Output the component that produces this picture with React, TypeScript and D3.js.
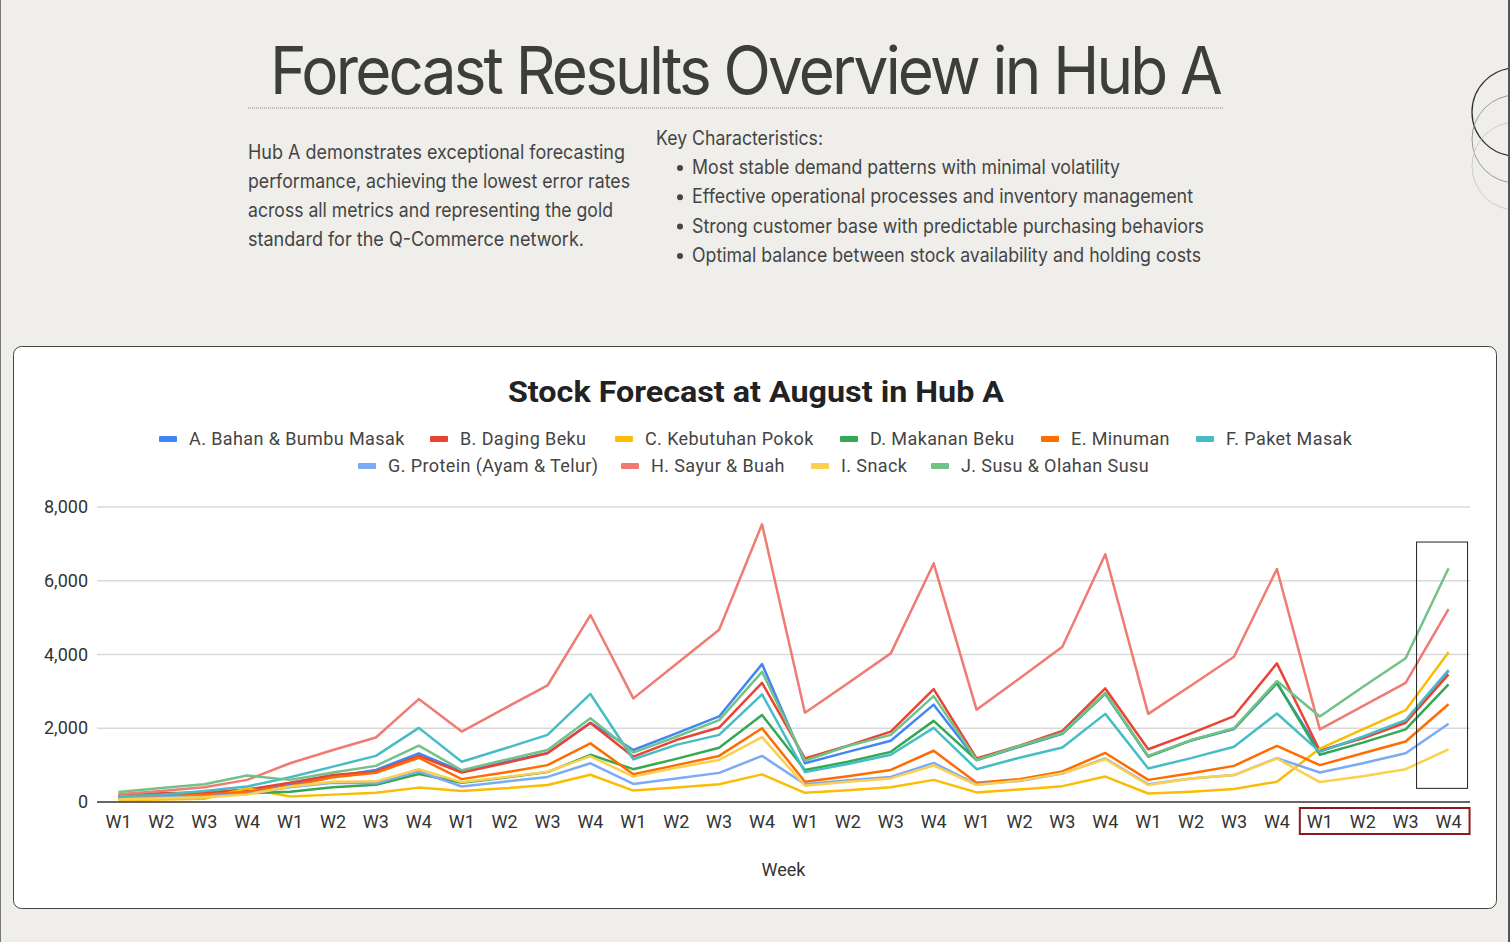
import React from 'react'
import * as d3 from 'd3'

// categories: 8 blocks of W1..W4
const weekNames = ['W1', 'W2', 'W3', 'W4']
const blocks = 8
const yTicks = [0, 2000, 4000, 6000, 8000]

const bahanBumbu = [130, 170, 210, 290, 460, 690, 870, 1320, 830, 1080, 1330, 2150, 1410, 1860, 2320, 3740, 1050, 1360, 1660, 2640, 1140, 1500, 1850, 2930, 1240, 1670, 1980, 3220, 1380, 1760, 2180, 3560]
const dagingBeku = [180, 240, 260, 340, 520, 730, 820, 1250, 800, 1050, 1320, 2140, 1230, 1680, 2020, 3230, 1180, 1530, 1910, 3060, 1180, 1530, 1930, 3080, 1430, 1860, 2330, 3760, 1390, 1730, 2150, 3460]
const kebutuhanPokok = [50, 70, 90, 370, 150, 200, 250, 390, 300, 370, 460, 740, 310, 390, 480, 750, 250, 320, 400, 600, 260, 340, 430, 690, 230, 280, 350, 550, 1450, 1970, 2490, 4060]
const makananBeku = [120, 160, 190, 240, 280, 400, 470, 760, 520, 660, 810, 1280, 890, 1170, 1470, 2360, 870, 1090, 1360, 2200, 1140, 1510, 1860, 2950, 1230, 1670, 1990, 3240, 1280, 1610, 1970, 3190]
const minuman = [110, 150, 200, 280, 430, 670, 790, 1200, 620, 800, 1000, 1590, 750, 1000, 1250, 2000, 550, 700, 870, 1390, 520, 620, 830, 1330, 600, 780, 980, 1520, 1000, 1320, 1640, 2650]
const paketMasak = [150, 200, 300, 420, 670, 960, 1250, 2010, 1090, 1450, 1820, 2930, 1160, 1550, 1820, 2920, 810, 1030, 1280, 2010, 890, 1200, 1480, 2390, 910, 1190, 1500, 2400, 1360, 1770, 2220, 3580]
const protein = [90, 120, 150, 220, 400, 520, 510, 830, 420, 550, 680, 1050, 490, 640, 790, 1250, 480, 590, 680, 1060, 480, 570, 770, 1180, 480, 640, 730, 1190, 800, 1050, 1320, 2120]
const sayurBuah = [210, 300, 400, 600, 1050, 1410, 1750, 2790, 1910, 2540, 3160, 5070, 2810, 3740, 4670, 7530, 2420, 3220, 4030, 6470, 2500, 3350, 4210, 6720, 2390, 3160, 3940, 6320, 1970, 2600, 3230, 5230]
const snack = [70, 100, 130, 200, 420, 550, 560, 890, 540, 670, 820, 1240, 690, 930, 1140, 1760, 440, 550, 640, 990, 460, 580, 780, 1160, 460, 640, 730, 1180, 540, 700, 890, 1430]
const susu = [270, 380, 480, 720, 600, 800, 980, 1530, 860, 1140, 1410, 2270, 1340, 1770, 2220, 3530, 1120, 1520, 1820, 2870, 1140, 1520, 1870, 2950, 1250, 1680, 2000, 3280, 2320, 3120, 3900, 6340]

const seriesNames = [
  'A. Bahan & Bumbu Masak', 'B. Daging Beku', 'C. Kebutuhan Pokok', 'D. Makanan Beku', 'E. Minuman',
  'F. Paket Masak', 'G. Protein (Ayam & Telur)', 'H. Sayur & Buah', 'I. Snack', 'J. Susu & Olahan Susu'
]
const seriesValues = [bahanBumbu, dagingBeku, kebutuhanPokok, makananBeku, minuman, paketMasak, protein, sayurBuah, snack, susu]
const colors = ['#4285F4', '#EA4335', '#FBBC04', '#34A853', '#FF6D01', '#46BDC6', '#7BAAF7', '#F07B72', '#FCD04F', '#71C287']

const paragraph = [
  'Hub A demonstrates exceptional forecasting',
  'performance, achieving the lowest error rates',
  'across all metrics and representing the gold',
  'standard for the Q-Commerce network.'
]
const paragraphWidths = [377, 382, 365, 336]
const bullets = [
  'Most stable demand patterns with minimal volatility',
  'Effective operational processes and inventory management',
  'Strong customer base with predictable purchasing behaviors',
  'Optimal balance between stock availability and holding costs'
]
const bulletWidths = [428, 501, 512, 509]

// legend layout (swatch x per item)
const legendRows = [
  { y: 439, items: [[0, 159], [1, 430], [2, 615], [3, 840], [4, 1041], [5, 1196]] },
  { y: 466, items: [[6, 358], [7, 621], [8, 811], [9, 931]] }
]

export default function App() {
  const W = 1510
  const H = 942
  const idx = d3.range(blocks * 4)
  const x = d3.scalePoint<number>().domain(idx).range([97, 1470]).padding(0.5)
  const y = d3.scaleLinear().domain([0, 8000]).range([802, 507])
  const line = d3
    .line<number>()
    .x((d, i) => x(i) as number)
    .y(d => y(d))

  const font = 'Inter, "Noto Sans", sans-serif'
  const chartFont = 'Roboto, Arial, sans-serif'
  const textCol = '#3d3d3d'

  return (
    <svg width={W} height={H} style={{ position: 'absolute', left: 0, top: 0 }}>
      <rect x={0} y={0} width={W} height={H} fill="#efeeea" />
      <line x1={0.5} y1={0} x2={0.5} y2={H} stroke="#777" />
      <line x1={1509} y1={0} x2={1509} y2={H} stroke="#555" strokeWidth={2} />

      {/* decorative circles */}
      <clipPath id="clipR">
        <rect x={0} y={0} width={1508} height={H} />
      </clipPath>
      <g clipPath="url(#clipR)" fill="none">
        <circle cx={1516} cy={112} r={44} stroke="#333" strokeWidth={1.3} />
        <circle cx={1516} cy={139} r={44} stroke="#999" strokeWidth={1} />
        <circle cx={1516} cy={166} r={44} stroke="#ccc" strokeWidth={1} />
      </g>

      {/* header */}
      <text x={270} y={94} fontFamily={font} fontSize={66} fill={textCol}
        textLength={950} lengthAdjust="spacingAndGlyphs" letterSpacing={-3}>
        Forecast Results Overview in Hub A
      </text>
      <line x1={248} y1={108} x2={1224} y2={108} stroke="#888" strokeDasharray="1,1" />

      {paragraph.map((t, i) => (
        <text key={i} x={248} y={159 + i * 29} fontFamily={font} fontSize={19.5} fill="#444"
          textLength={paragraphWidths[i]} lengthAdjust="spacingAndGlyphs">
          {t}
        </text>
      ))}
      <text x={656} y={145} fontFamily={font} fontSize={19.5} fill="#444"
        textLength={167} lengthAdjust="spacingAndGlyphs">
        Key Characteristics:
      </text>
      {bullets.map((t, i) => (
        <g key={i}>
          <circle cx={680} cy={168 + i * 29.3} r={3} fill="#444" />
          <text x={692} y={174 + i * 29.3} fontFamily={font} fontSize={19.5} fill="#444"
            textLength={bulletWidths[i]} lengthAdjust="spacingAndGlyphs">
            {t}
          </text>
        </g>
      ))}

      {/* chart card */}
      <rect x={13.5} y={346.5} width={1483} height={562} rx={8} fill="#fff" stroke="#444" />
      <text x={756} y={402} textAnchor="middle" fontFamily={chartFont} fontWeight="bold" fontSize={30}
        fill="#222" textLength={496} lengthAdjust="spacingAndGlyphs">
        Stock Forecast at August in Hub A
      </text>

      {legendRows.map((row, r) => (
        <g key={r}>
          {row.items.map(([s, sx]) => (
            <g key={s}>
              <rect x={sx} y={row.y - 3} width={18} height={6} rx={1} fill={colors[s]} />
              <text x={sx + 30} y={row.y + 6} fontFamily={chartFont} fontSize={18} fill="#444" letterSpacing={0.4}>
                {seriesNames[s]}
              </text>
            </g>
          ))}
        </g>
      ))}

      {/* grid + y axis */}
      {yTicks.map(t => (
        <g key={t}>
          {t > 0 && <line x1={97} x2={1470} y1={y(t)} y2={y(t)} stroke="#d9d9d9" strokeWidth={1.5} />}
          <text x={88} y={y(t) + 6} textAnchor="end" fontFamily={chartFont} fontSize={18} fill="#333">
            {d3.format(',')(t)}
          </text>
        </g>
      ))}

      {/* series */}
      <g fill="none" strokeWidth={2.5} strokeLinejoin="round">
        {seriesValues.map((vals, s) => (
          <path key={s} d={line(vals) as string} stroke={colors[s]} />
        ))}
      </g>

      <line x1={97} x2={1470} y1={y(0)} y2={y(0)} stroke="#333" strokeWidth={1.5} />

      {/* x axis */}
      {idx.map(i => (
        <text key={i} x={x(i)} y={828} textAnchor="middle" fontFamily={chartFont} fontSize={18} fill="#333">
          {weekNames[i % 4]}
        </text>
      ))}
      <text x={783.5} y={876} textAnchor="middle" fontFamily={chartFont} fontSize={18} fill="#333">
        Week
      </text>

      {/* highlights */}
      <rect x={(x(31) as number) - 32} y={y(7050)} width={51} height={y(370) - y(7050)} fill="none" stroke="#222" />
      <rect x={(x(28) as number) - 20} y={808} width={(x(31) as number) - (x(28) as number) + 41} height={26}
        fill="none" stroke="#8b1a1a" strokeWidth={2} />
    </svg>
  )
}
